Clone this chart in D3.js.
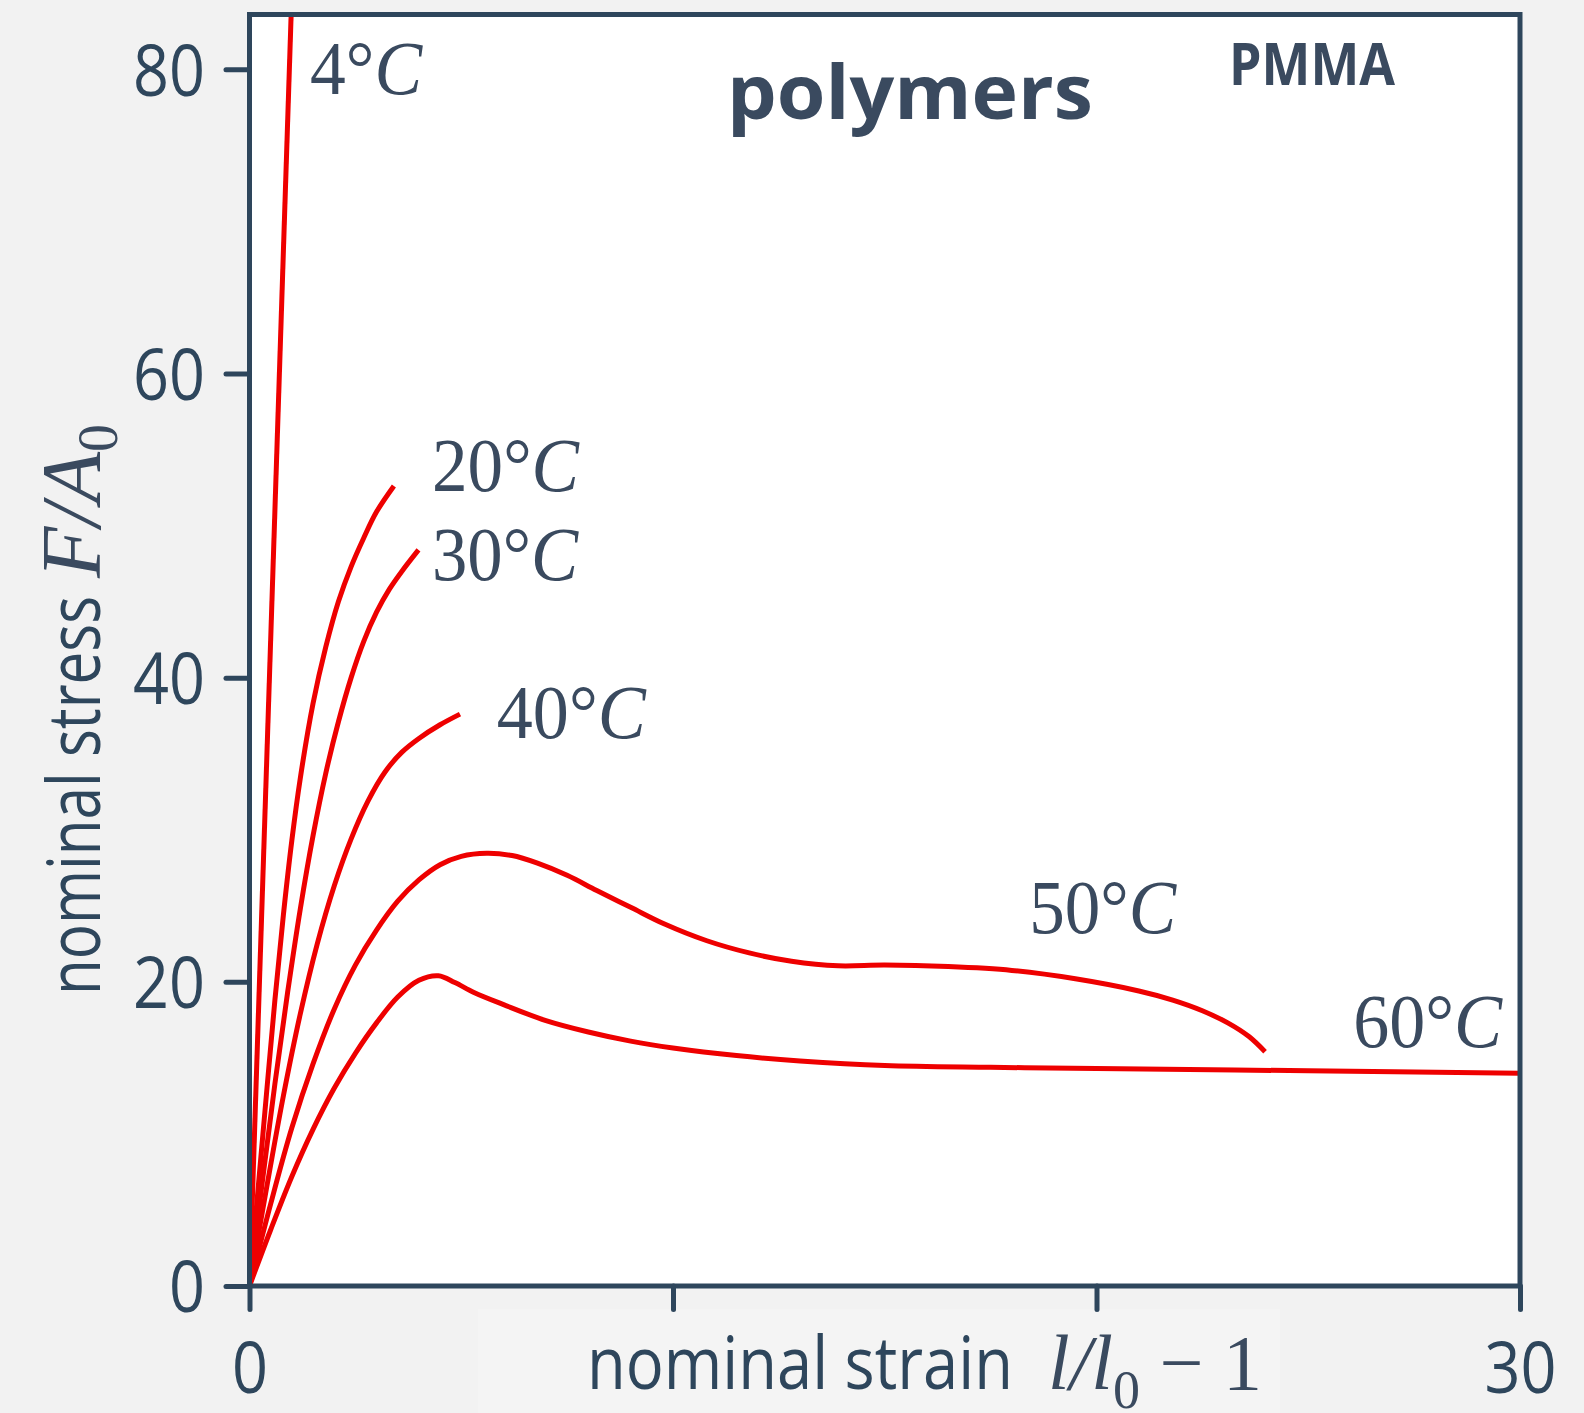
<!DOCTYPE html>
<html><head><meta charset="utf-8">
<script src="https://cdn.jsdelivr.net/npm/d3@7"></script>
<style>html,body{margin:0;padding:0;background:#f2f2f2;} svg{display:block}</style>
</head><body><svg id="c" width="1584" height="1413"></svg>
<script>
// ---- data ----
const temperatures = ["4°", "20°", "30°", "40°", "50°", "60°"];

const strain4  = [0, 1.0];
const stress4  = [0, 85];

const strain20 = [0, 0.2, 0.4, 0.6, 0.8, 1.0, 1.2, 1.5, 1.8, 2.1, 2.4, 2.7, 3.0, 3.41];
const stress20 = [0, 6.3, 12.6, 18.8, 24.4, 29.3, 33.4, 38.3, 42.0, 45.0, 47.3, 49.2, 50.9, 52.6];

const strain30 = [0, 0.3, 0.6, 0.9, 1.2, 1.5, 1.8, 2.1, 2.4, 2.7, 3.0, 3.3, 3.6, 3.99];
const stress30 = [0, 6.8, 13.3, 19.3, 24.8, 29.6, 33.7, 37.1, 40.0, 42.4, 44.3, 45.8, 47.0, 48.4];

const strain40 = [0, 0.4, 0.8, 1.2, 1.6, 2.0, 2.4, 2.8, 3.2, 3.6, 4.0, 4.5, 4.97];
const stress40 = [0, 6.4, 12.5, 17.9, 22.5, 26.3, 29.4, 31.9, 33.8, 35.1, 36.0, 36.9, 37.6];

const strain50 = [0, 0.5, 1.0, 1.5, 2.0, 2.5, 3.0, 3.5, 4.0, 4.5, 5.0, 5.6, 6.2, 6.8, 7.5, 8.2, 9.0, 9.8, 10.8, 11.8, 12.8, 13.9, 15.0, 16.5, 18.0, 19.5, 21.0, 21.8, 22.5, 23.1, 23.6, 23.98];
const stress50 = [0, 5.4, 10.4, 14.6, 18.2, 21.1, 23.4, 25.3, 26.7, 27.7, 28.25, 28.45, 28.3, 27.8, 27.0, 26.0, 24.9, 23.8, 22.7, 21.9, 21.35, 21.05, 21.1, 21.0, 20.75, 20.2, 19.4, 18.8, 18.1, 17.3, 16.4, 15.4];

const strain60 = [0, 0.5, 1.0, 1.5, 2.0, 2.5, 3.0, 3.5, 4.0, 4.46, 4.85, 5.3, 6.0, 7.0, 8.0, 9.0, 10.0, 11.5, 13.0, 15.0, 17.5, 20, 25, 30];
const stress60 = [0, 3.7, 7.2, 10.3, 13.0, 15.3, 17.3, 19.0, 20.1, 20.4, 19.95, 19.3, 18.5, 17.45, 16.7, 16.1, 15.65, 15.15, 14.8, 14.5, 14.38, 14.3, 14.15, 13.98];

const xTickValues = [0, 10, 20, 30];
const xTickLabels = ["0", "", "", "30"];
const yTickValues = [0, 20, 40, 60, 80];
const yTickLabels = ["0", "20", "40", "60", "80"];

// ---- layout / style (separate from data) ----
const labelAnchor = [[1.43, 78.4], [4.31, 52.3], [4.31, 46.4], [5.84, 36.0], [18.41, 23.2], [26.06, 15.7]];
const labelWidth = [112, 147, 146, 149, 147, 149];
const AXIS = "#2e465c", TEXT = "#3a4a5f", RED = "#ee0000";
const SANS = "'Open Sans', 'Noto Sans', sans-serif";
const SERIF = "'Liberation Serif', 'Times New Roman', serif";

const svg = d3.select("#c");
const x = d3.scaleLinear().domain([0, 30]).range([249.5, 1520]);
const y = d3.scaleLinear().domain([0, 83.6]).range([1286, 14.5]);

// background box behind x-axis label
svg.append("rect").attr("x", 478).attr("y", 1309).attr("width", 802).attr("height", 104).attr("fill", "#f4f4f4");

// plot area
svg.append("rect").attr("x", x(0)).attr("y", y(83.6)).attr("width", x(30) - x(0)).attr("height", y(0) - y(83.6)).attr("fill", "#fff");

svg.append("clipPath").attr("id", "clip").append("rect")
  .attr("x", x(0)).attr("y", y(83.6)).attr("width", x(30) - x(0)).attr("height", y(0) - y(83.6));

const series = [
  [strain4, stress4], [strain20, stress20], [strain30, stress30],
  [strain40, stress40], [strain50, stress50], [strain60, stress60]
].map(([xs, ys]) => xs.map((v, i) => [v, ys[i]]));

const line = d3.line().x(d => x(d[0])).y(d => y(d[1])).curve(d3.curveCatmullRom.alpha(0.5));
svg.append("g").attr("clip-path", "url(#clip)")
  .selectAll("path").data(series).join("path")
  .attr("d", d => line(d))
  .attr("fill", "none").attr("stroke", RED).attr("stroke-width", 5)
  .attr("stroke-linejoin", "round");

// frame
svg.append("rect").attr("x", x(0)).attr("y", y(83.6)).attr("width", x(30) - x(0)).attr("height", y(0) - y(83.6))
  .attr("fill", "none").attr("stroke", AXIS).attr("stroke-width", 5);

// axes
const yAxis = d3.axisLeft(y).tickValues(yTickValues).tickSize(23.5).tickPadding(21)
  .tickFormat((d, i) => yTickLabels[i]);
const gy = svg.append("g").attr("transform", `translate(${x(0)},0)`).call(yAxis);
const xAxis = d3.axisBottom(x).tickValues(xTickValues).tickSize(23.5)
  .tickFormat((d, i) => xTickLabels[i]);
const gx = svg.append("g").attr("transform", `translate(0,${y(0)})`).call(xAxis);

[gy, gx].forEach(g => {
  g.select(".domain").remove();
  g.selectAll(".tick line").attr("stroke", AXIS).attr("stroke-width", 5).attr("stroke-linecap", "round");
  g.selectAll(".tick text").attr("fill", AXIS).attr("font-family", SANS).attr("font-size", 72)
    .attr("textLength", function () { return this.textContent.length * 36; })
    .attr("lengthAdjust", "spacingAndGlyphs");
});
gy.selectAll(".tick text").attr("dy", "0.36em");
gx.selectAll(".tick text").attr("y", 107).attr("dy", 0);

// title and subtitle
svg.append("text").attr("x", 727).attr("y", 119).attr("font-family", SANS).attr("font-weight", 700)
  .attr("font-size", 76).attr("fill", TEXT).attr("textLength", 366).attr("lengthAdjust", "spacingAndGlyphs")
  .text("polymers");
svg.append("text").attr("x", 1229).attr("y", 85).attr("font-family", SANS).attr("font-weight", 700)
  .attr("font-size", 59).attr("fill", TEXT).attr("textLength", 166).attr("lengthAdjust", "spacingAndGlyphs")
  .text("PMMA");

// temperature labels
temperatures.forEach((t, i) => {
  const tx = svg.append("text").attr("x", x(labelAnchor[i][0])).attr("y", y(labelAnchor[i][1]))
    .attr("font-family", SERIF).attr("font-size", 76).attr("fill", TEXT)
    .attr("textLength", labelWidth[i]).attr("lengthAdjust", "spacingAndGlyphs");
  tx.append("tspan").text(t);
  tx.append("tspan").attr("font-style", "italic").text("C");
});

// x-axis label
svg.append("text").attr("x", 587).attr("y", 1389).attr("font-family", SANS).attr("font-size", 74)
  .attr("fill", AXIS).attr("textLength", 426).attr("lengthAdjust", "spacingAndGlyphs").text("nominal strain");
const xs = svg.append("text").attr("x", 1048).attr("y", 1389).attr("font-family", SERIF).attr("font-size", 78)
  .attr("fill", TEXT);
xs.append("tspan").attr("font-style", "italic").text("l/l");
xs.append("tspan").attr("dy", 19).attr("font-size", 54).text("0");
xs.append("tspan").attr("dy", -19).text(" − 1");

// y-axis label
const gyl = svg.append("g").attr("transform", "translate(100,0) rotate(-90)");
gyl.append("text").attr("x", -995).attr("y", 0).attr("font-family", SANS).attr("font-size", 74)
  .attr("fill", AXIS).attr("textLength", 399).attr("lengthAdjust", "spacingAndGlyphs").text("nominal stress");
const ys = gyl.append("text").attr("x", -578).attr("y", 0).attr("font-family", SERIF).attr("font-size", 84)
  .attr("fill", TEXT);
ys.append("tspan").attr("font-style", "italic").text("F/A");
ys.append("tspan").attr("dy", 17).attr("font-size", 56).text("0");
</script></body></html>
